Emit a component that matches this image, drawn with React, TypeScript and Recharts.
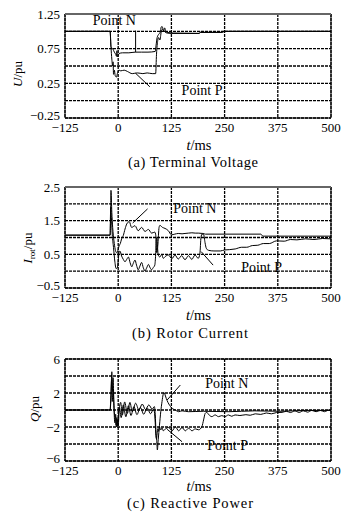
import React from "react";
import {
  LineChart,
  Line,
  XAxis,
  YAxis,
  CartesianGrid,
  ReferenceArea,
  ReferenceLine,
  ReferenceDot,
} from "recharts";

const FONT = '"Liberation Serif", "Times New Roman", Times, serif';

// time axis, shared by the three panels
const timeTicks = [-125, 0, 125, 250, 375, 500];

// (a) terminal voltage
const uTicks = [-0.25, 0, 0.25, 0.5, 0.75, 1, 1.25];
const uLabelled = [-0.25, 0.25, 0.75, 1.25];
const uN_t = [-125, -19, -17, -13, -9, -6, -4, -3, -2, 0, 2, 10, 25, 40, 55, 70, 87, 89, 91.5, 95.5, 99, 101, 103, 105, 107, 109, 112, 115, 130, 190, 193, 243, 248, 500];
const uN = [1.0, 1.0, 0.78, 0.75, 0.7, 0.67, 0.64, 0.72, 0.63, 0.65, 0.68, 0.69, 0.69, 0.7, 0.7, 0.7, 0.71, 0.8, 0.91, 0.96, 0.99, 1.06, 1.07, 1.04, 1.0, 1.05, 1.0, 0.985, 0.975, 0.97, 0.985, 0.985, 1.0, 1.0];
const uP_t = [-125, -19, -17, -15, -13, -12, -11, -9, -7, -4, -2, 2, 6, 14, 22, 33, 45, 58, 68, 80, 88, 90, 93, 95, 98, 101, 104, 107, 110, 115, 125, 190, 193, 245, 250, 500];
const uP = [1.0, 1.0, 0.78, 0.6, 0.5, 0.56, 0.38, 0.44, 0.36, 0.34, 0.39, 0.44, 0.43, 0.44, 0.42, 0.39, 0.4, 0.39, 0.4, 0.39, 0.39, 0.67, 0.87, 0.91, 0.875, 0.99, 1.03, 1.01, 0.99, 0.975, 0.97, 0.97, 0.985, 0.985, 1.0, 1.0];

// (b) rotor current
const iTicks = [-0.5, 0, 0.5, 1, 1.5, 2, 2.5];
const iLabelled = [-0.5, 0.5, 1.5, 2.5];
const iN_t = [-125, -19, -18, -17, -15, -13, -10, -7, -4, -1, 2, 5, 8, 12, 16, 20, 26, 31.5, 39.5, 47, 55, 63, 71, 78.5, 86, 88.5, 90.5, 93, 96, 98, 104, 110, 118, 125, 133, 141, 150, 157, 165, 173, 181, 188, 199, 205, 335, 340, 500];
const iN = [1.07, 1.07, 1.5, 2.4, 1.75, 1.3, 0.9, 0.65, 0.55, 0.6, 0.75, 0.82, 0.96, 1.06, 1.25, 1.4, 1.47, 1.3, 1.35, 1.2, 1.3, 1.18, 1.24, 1.13, 1.16, 1.05, 0.55, 0.75, 1.3, 1.36, 1.3, 1.27, 1.2, 1.08, 1.1, 1.12, 1.11, 1.12, 1.13, 1.14, 1.13, 1.13, 1.12, 1.1, 1.1, 1.04, 1.04];
const iP_t = [-125, -19, -18.5, -17.5, -16, -14, -11, -8, -5, -2, 0, 2, 4, 8, 12, 16, 20, 24, 28, 32, 35, 39.5, 43, 47, 51, 55, 59, 63, 67, 71, 75, 78.5, 82, 86, 88, 89.5, 91, 92.5, 94, 98, 102, 106, 110, 118, 126, 133.5, 141, 149, 157, 165, 173, 180.5, 188, 192, 194.5, 197, 201, 204, 207, 212, 225, 240, 250, 262, 275, 290, 302, 315, 328, 341, 355, 372, 390, 405, 420, 440, 460, 480, 500];
const iP = [1.07, 1.07, 1.45, 1.9, 1.6, 1.1, 0.7, 0.3, 0.08, 0.1, 0.3, 0.55, 0.6, 0.45, 0.35, 0.28, 0.35, 0.42, 0.25, 0.13, 0.22, 0.33, 0.18, 0.04, 0.15, 0.26, 0.1, 0.01, 0.1, 0.2, 0.1, 0.04, 0.1, 0.18, 0.5, 0.95, 1.0, 0.7, 0.48, 0.42, 0.5, 0.38, 0.43, 0.48, 0.37, 0.48, 0.36, 0.46, 0.34, 0.46, 0.35, 0.48, 0.38, 0.53, 1.0, 1.1, 1.08, 0.85, 0.68, 0.62, 0.6, 0.6, 0.63, 0.64, 0.66, 0.71, 0.71, 0.76, 0.77, 0.82, 0.82, 0.9, 0.89, 0.94, 0.93, 0.96, 0.94, 0.97, 0.96];

// (c) reactive power
const qTicks = [-6, -4, -2, 0, 2, 4, 6];
const qLabelled = [-6, -2, 2, 6];
const qN_t = [-125, -19, -17, -15, -13.5, -12, -10.5, -9, -7, -5, -3, -1, 1, 3, 5.8, 9.7, 15.2, 21.4, 27.6, 33, 40.9, 48.7, 56.5, 64.2, 72, 79.8, 85, 87, 89, 90.5, 92, 94, 97, 100, 103, 105.5, 107.5, 109.5, 111, 115, 119, 123, 128, 134, 142, 150, 165, 200, 260, 320, 380, 440, 500];
const qN = [0, 0, 1.5, 4.5, 2.2, 3.8, 1.5, -0.3, -1.0, -1.8, -0.9, -1.9, -0.3, 0.4, 0.9, -0.6, 0.95, -0.4, 0.9, -0.2, 0.8, 0.0, 0.7, 0.05, 0.6, 0.1, 0.4, -0.5, -2.8, -3.6, -4.7, -3.5, -1.8, -0.2, 1.0, 1.8, 2.05, 1.9, 1.65, 1.1, 0.7, 0.4, 0.15, 0.0, -0.2, -0.1, -0.2, -0.15, -0.2, -0.1, -0.15, -0.05, -0.05];
const qP_t = [-125, -19, -17, -15.5, -14, -12, -10, -8, -6, -4, -2, 0, 3, 7, 12, 18, 24, 30, 37, 44, 52, 60, 68, 76, 83, 85, 87, 88.5, 90, 91.5, 93, 95, 97, 100, 103, 106, 111, 118.8, 126.6, 134.4, 142, 150, 157.7, 165.5, 173.3, 181, 189, 196.7, 200.6, 204.5, 208, 212, 220, 227.8, 235.6, 243.4, 251, 259, 266.8, 274.5, 286, 300, 310, 322, 335, 348, 360, 372, 385, 395, 405, 415, 425, 435, 445, 455, 465, 475, 485, 495, 500];
const qP = [0, 0, 2.0, 3.5, 1.0, 2.5, 0.2, -1.5, -0.5, -2.0, -1.2, -1.8, 0.3, -0.9, 0.6, -0.8, 0.5, -0.65, 0.4, -0.55, 0.3, -0.5, 0.25, -0.45, 0.1, -0.2, -1.5, -3.0, -3.4, -2.8, -2.2, -2.5, -2.0, -2.35, -2.1, -2.45, -2.22, -2.06, -2.45, -1.98, -2.45, -2.06, -2.45, -2.14, -2.45, -2.22, -2.33, -1.95, -1.17, -0.39, -0.27, -0.5, -0.78, -0.58, -0.78, -0.66, -0.78, -0.58, -0.74, -0.58, -0.65, -0.55, -0.62, -0.45, -0.52, -0.35, -0.45, -0.3, -0.28, -0.15, -0.3, -0.1, -0.28, -0.1, -0.25, -0.05, -0.2, -0.05, -0.2, 0.0, -0.1];

// annotation pointers (from, to) and "Point" notes, in data units
const uPointers = [[40.9, 1.01, 40.9, 0.7], [40.9, 0.395, 74.3, 0.2]];
const uNotes = [["Point N", -9, 1.163], ["Point P", 197, 0.154]];
const iPointers = [[69, 1.85, 34, 1.43], [223, 0.18, 195, 0.58]];
const iNotes = [["Point N", 180, 1.88], ["Point P", 337, 0.11]];
const qPointers = [[146, 2.94, 115, 1.18], [150, -3.73, 115, -2.27]];
const qNotes = [["Point N", 255, 3.18], ["Point P", 257, -4.12]];

const pts = (ts: number[], vs: number[]) => ts.map((t, i) => ({ t, v: vs[i] }));
const fmt = (v: number) => String(v).replace("-", "\u2212");

const tickStyle = { fontSize: 13, fill: "#000", fontFamily: FONT };

// y tick: only every other value gets a label; the lowest one sits a bit higher
function YTick({ x, y, payload, labelled, low }: any) {
  const v = payload.value;
  if (!labelled.includes(v)) return null;
  return (
    <text x={x} y={y + (v === low ? -3 : 0)} dy="0.355em" textAnchor="end" {...tickStyle}>
      {fmt(v)}
    </text>
  );
}

function Panel({ top, height, marginTop, xHeight, xMargin, domain, ticks, labelled, lines, pointers, notes, greyTop }: any) {
  return (
    <div style={{ position: "absolute", left: 0, top }}>
      <LineChart width={344} height={height} margin={{ top: marginTop, right: 13, bottom: 0, left: 0 }}>
        <CartesianGrid stroke="#000" strokeDasharray="3 1" strokeWidth={1.3} />
        <XAxis
          type="number"
          dataKey="t"
          domain={[-125, 500]}
          ticks={timeTicks}
          interval={0}
          tickFormatter={fmt}
          tickLine={false}
          axisLine={false}
          tickSize={0}
          tickMargin={xMargin}
          height={xHeight}
          tick={tickStyle}
          allowDataOverflow
        />
        <YAxis
          type="number"
          domain={domain}
          ticks={ticks}
          interval={0}
          tickLine={false}
          axisLine={false}
          tickSize={0}
          tickMargin={5}
          width={65}
          tick={(p: any) => <YTick {...p} labelled={labelled} low={domain[0]} />}
          allowDataOverflow
        />
        <ReferenceArea x1={-125} x2={500} y1={domain[0]} y2={domain[1]} fill="none" stroke="#000" strokeWidth={1} />
        {greyTop && <ReferenceLine y={domain[1]} stroke="#666" strokeWidth={2} />}
        {lines.map((d: any, i: number) => (
          <Line
            key={i}
            data={d}
            dataKey="v"
            type="monotone"
            stroke="#000"
            strokeWidth={1}
            dot={false}
            isAnimationActive={false}
          />
        ))}
        {pointers.map((p: number[], i: number) => (
          <ReferenceLine
            key={"p" + i}
            segment={[{ x: p[0], y: p[1] }, { x: p[2], y: p[3] }]}
            stroke="#000"
            strokeWidth={1}
          />
        ))}
        {notes.map((n: any[], i: number) => (
          <ReferenceDot
            key={"n" + i}
            x={n[1]}
            y={n[2]}
            r={0}
            fill="none"
            stroke="none"
            label={{ value: n[0], position: "center", fontSize: 14, fill: "#000", fontFamily: FONT }}
          />
        ))}
      </LineChart>
    </div>
  );
}

export default function App() {
  return (
    <div style={{ position: "absolute", left: 0, top: 0, width: 344, height: 521, background: "#fff" }}>
      <Panel
        top={0}
        height={140}
        marginTop={14}
        xHeight={22}
        xMargin={5}
        domain={[-0.25, 1.25]}
        ticks={uTicks}
        labelled={uLabelled}
        lines={[pts(uN_t, uN), pts(uP_t, uP)]}
        pointers={uPointers}
        notes={uNotes}
        greyTop
      />
      <Panel
        top={170}
        height={140}
        marginTop={17}
        xHeight={22}
        xMargin={5}
        domain={[-0.5, 2.5]}
        ticks={iTicks}
        labelled={iLabelled}
        lines={[pts(iN_t, iN), pts(iP_t, iP)]}
        pointers={iPointers}
        notes={iNotes}
        greyTop
      />
      <Panel
        top={340}
        height={145}
        marginTop={19}
        xHeight={24}
        xMargin={5}
        domain={[-6, 6]}
        ticks={qTicks}
        labelled={qLabelled}
        lines={[pts(qN_t, qN), pts(qP_t, qP)]}
        pointers={qPointers}
        notes={qNotes}
      />
      <svg
        width={344}
        height={521}
        style={{ position: "absolute", left: 0, top: 0, pointerEvents: "none" }}
        fontFamily={FONT}
        fill="#000"
      >
        {/* axis titles */}
        <text transform="translate(22,74) rotate(-90)" textAnchor="middle" fontSize={13}>
          <tspan fontStyle="italic">U</tspan>/pu
        </text>
        <text transform="translate(32,248) rotate(-90)" textAnchor="middle" fontSize={13}>
          <tspan fontStyle="italic">I</tspan>
          <tspan fontSize={9} dy={3}>rot</tspan>
          <tspan dy={-3}>/pu</tspan>
        </text>
        <text transform="translate(38.5,409) rotate(-90)" textAnchor="middle" fontSize={13}>
          <tspan fontStyle="italic">Q</tspan>/pu
        </text>
        <text x={199} y={150} textAnchor="middle" fontSize={14.5}>
          <tspan fontStyle="italic">t</tspan>/ms
        </text>
        <text x={198.5} y={320} textAnchor="middle" fontSize={14.5}>
          <tspan fontStyle="italic">t</tspan>/ms
        </text>
        <text x={199} y={491} textAnchor="middle" fontSize={14.5}>
          <tspan fontStyle="italic">t</tspan>/ms
        </text>
        {/* captions */}
        <text x={193} y={167} textAnchor="middle" fontSize={14.5} textLength={130} lengthAdjust="spacing">
          (a) Terminal Voltage
        </text>
        <text x={190} y={337.5} textAnchor="middle" fontSize={14.5} textLength={116} lengthAdjust="spacing">
          (b) Rotor Current
        </text>
        <text x={190} y={507.5} textAnchor="middle" fontSize={14.5} textLength={126} lengthAdjust="spacing">
          (c) Reactive Power
        </text>
      </svg>
    </div>
  );
}
